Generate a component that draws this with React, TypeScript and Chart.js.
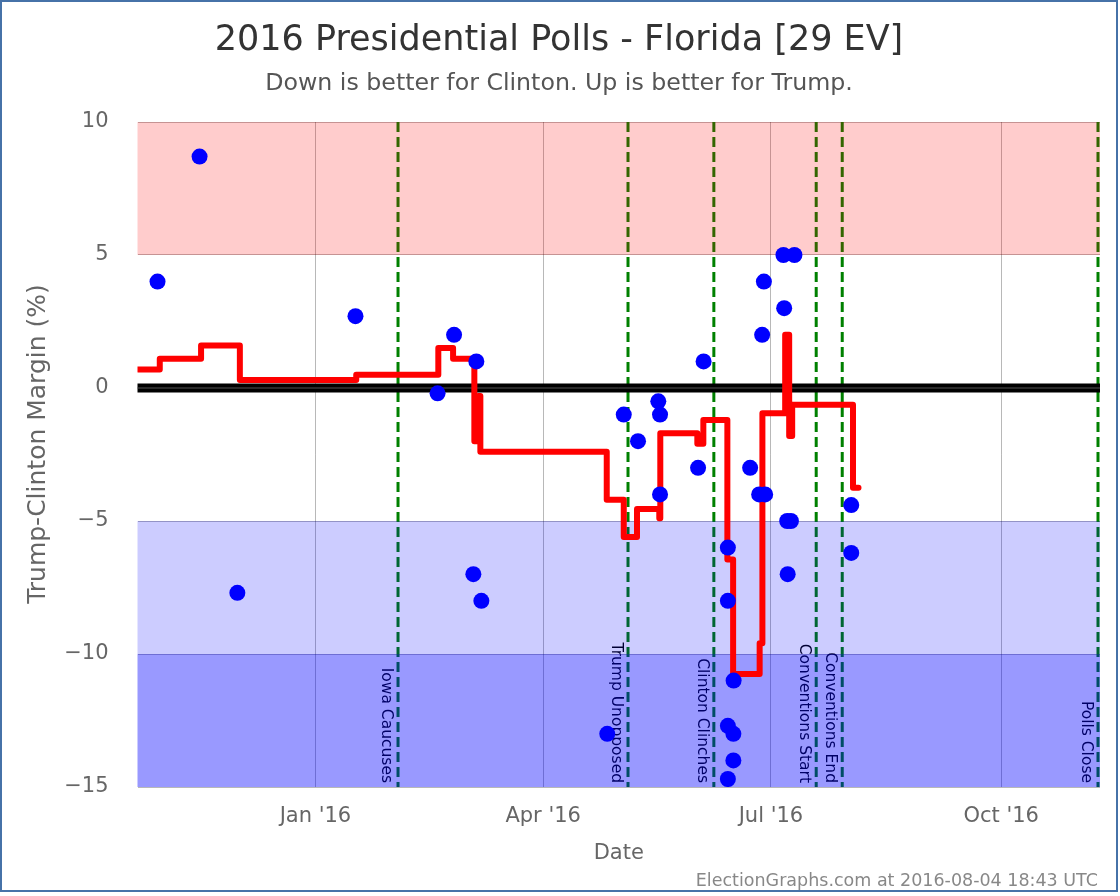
import { useEffect, useRef } from "react";
import { Chart, registerables } from "chart.js";

Chart.register(...registerables);

// x values are days since 2016-01-01
const pollDays = [-63.1, -46.3, -31.2, 16, 48.8, 55.4, 64.3, 63.1, 66.3, 116.6, 123.2, 128.9, 137, 137.7, 137.7, 152.9, 155.1, 164.8, 164.8, 167.1, 164.8, 167, 167, 164.8, 173.7, 178.5, 179.2, 177.3, 179.7, 187.3, 187, 191.4, 188.5, 190, 188.7, 214.1, 214.1];
const pollMargins = [4, 8.7, -7.7, 2.7, -0.2, 2, 1, -7, -8, -13, -1, -2, -0.5, -1, -4, -3, 1, -6, -8, -11, -12.7, -13, -14, -14.7, -3, 2, 4, -4, -4, 3, 5, 5, -5, -5, -7, -4.4, -6.2];

const avgDays = [-71.1, -62.2, -45.7, -30.2, 16.3, 49.1, 55, 63.5, 65.1, 65.9, 116.4, 123.2, 128.5, 137.4, 137.8, 152.6, 155, 164.6, 166.9, 177.5, 178.6, 187.7, 189.3, 190.5, 214.8, 217];
const avgMargins = [0.7, 1.1, 1.6, 0.3, 0.5, 1.5, 1.1, -2.0, -0.3, -2.4, -4.2, -5.6, -4.55, -4.9, -1.7, -2.1, -1.2, -6.45, -10.75, -9.6, -0.95, 2.0, -1.8, -0.63, -3.75, -3.75];

const eventNames = ["Iowa Caucuses", "Trump Unopposed", "Clinton Clinches", "Conventions Start", "Conventions End", "Polls Close"];
const eventDays = [33.0, 124.9, 159.2, 200.1, 210.5, 312.7];

const xTickDays = [0, 91, 182, 274];
const xTickLabels = ["Jan '16", "Apr '16", "Jul '16", "Oct '16"];

const bandLows = [5, -10, -15];
const bandHighs = [10, -5, -10];
const bandColors = ["rgba(255,0,0,0.2)", "rgba(0,0,255,0.2)", "rgba(0,0,255,0.4)"];

const FONT = "'DejaVu Sans', sans-serif";

export default function App() {
  const ref = useRef<HTMLCanvasElement>(null);

  useEffect(() => {
    document.body.style.margin = "0";
    const canvas = ref.current!;

    const decor = {
      id: "decor",
      beforeDraw(chart: any) {
        const ctx = chart.ctx;
        ctx.save();
        ctx.fillStyle = "#ffffff";
        ctx.fillRect(0, 0, chart.width, chart.height);
        ctx.strokeStyle = "#4672a8";
        ctx.lineWidth = 2;
        ctx.strokeRect(1, 1, 1116, 890);
        ctx.textAlign = "center";
        ctx.textBaseline = "alphabetic";
        ctx.fillStyle = "#333333";
        ctx.font = `35px ${FONT}`;
        ctx.fillText("2016 Presidential Polls - Florida [29 EV]", 559, 50);
        ctx.fillStyle = "#555555";
        ctx.font = `23.7px ${FONT}`;
        ctx.fillText("Down is better for Clinton. Up is better for Trump.", 559, 90);
        ctx.textAlign = "right";
        ctx.fillStyle = "#888888";
        ctx.font = `17.5px ${FONT}`;
        ctx.fillText("ElectionGraphs.com at 2016-08-04 18:43 UTC", 1098, 886);
        // y axis title
        ctx.save();
        ctx.translate(38, 444);
        ctx.rotate(-Math.PI / 2);
        ctx.textAlign = "center";
        ctx.textBaseline = "middle";
        ctx.fillStyle = "#666666";
        ctx.font = `25px ${FONT}`;
        ctx.fillText("Trump-Clinton Margin (%)", 0, 0);
        ctx.restore();
        ctx.restore();
      },
      beforeDatasetsDraw(chart: any) {
        const ctx = chart.ctx;
        const { top, bottom, left, right } = chart.chartArea;
        const xs = chart.scales.x;
        const ys = chart.scales.y;
        ctx.save();
        // event lines and labels
        eventDays.forEach((d, i) => {
          const px = xs.getPixelForValue(d);
          ctx.strokeStyle = "#008000";
          ctx.lineWidth = 3;
          ctx.setLineDash([10, 5]);
          ctx.beginPath();
          ctx.moveTo(px, top);
          ctx.lineTo(px, bottom);
          ctx.stroke();
          ctx.setLineDash([]);
          ctx.save();
          ctx.translate(px - 4, bottom - 4);
          ctx.rotate(Math.PI / 2);
          ctx.font = `15.5px ${FONT}`;
          ctx.fillStyle = "#000000";
          ctx.textAlign = "right";
          ctx.textBaseline = "top";
          ctx.fillText(eventNames[i], 0, 0);
          ctx.restore();
        });
        // bands
        bandLows.forEach((lo, i) => {
          const y1 = ys.getPixelForValue(bandHighs[i]);
          const y2 = ys.getPixelForValue(lo);
          ctx.fillStyle = bandColors[i];
          ctx.fillRect(left, y1, right - left, y2 - y1);
        });
        // zero line
        const y0 = ys.getPixelForValue(0);
        ctx.strokeStyle = "#000000";
        ctx.lineWidth = 9;
        ctx.beginPath();
        ctx.moveTo(left, y0);
        ctx.lineTo(right, y0);
        ctx.stroke();
        ctx.strokeStyle = "#555555";
        ctx.lineWidth = 1;
        ctx.beginPath();
        ctx.moveTo(left, y0);
        ctx.lineTo(right, y0);
        ctx.stroke();
        ctx.restore();
      },
    };

    const chart = new Chart(canvas, {
      type: "line",
      data: {
        datasets: [
          {
            type: "scatter",
            data: pollDays.map((d, i) => ({ x: d, y: pollMargins[i] })),
            backgroundColor: "#0000ff",
            borderWidth: 0,
            pointRadius: 8,
            pointHoverRadius: 8,
            order: 0,
          } as any,
          {
            type: "line",
            data: avgDays.map((d, i) => ({ x: d, y: avgMargins[i] })),
            borderColor: "#ff0000",
            borderWidth: 6,
            stepped: true,
            pointRadius: 0,
            fill: false,
            borderCapStyle: "round",
            borderJoinStyle: "round",
            order: 1,
          } as any,
        ],
      },
      options: {
        responsive: false,
        animation: false,
        layout: { padding: { top: 122, right: 20, left: 0, bottom: 0 } },
        plugins: {
          legend: { display: false },
          tooltip: { enabled: false },
          title: { display: false },
        },
        scales: {
          x: {
            type: "linear",
            min: -71.1,
            max: 313.5,
            afterBuildTicks: (s: any) => {
              s.ticks = xTickDays.map((v) => ({ value: v }));
            },
            afterFit: (s: any) => {
              s.height = 109;
            },
            ticks: {
              autoSkip: false,
              maxRotation: 0,
              padding: 17,
              color: "#666666",
              font: { family: FONT, size: 21 },
              callback: (_v: any, i: number) => xTickLabels[i],
            },
            grid: { color: "rgba(0,0,0,0.28)", drawTicks: false, lineWidth: 1 },
            border: { display: false },
            title: {
              display: true,
              text: "Date",
              color: "#666666",
              font: { family: FONT, size: 21 },
              padding: { top: 0, bottom: 30 },
            },
          },
          y: {
            min: -15,
            max: 10,
            afterFit: (s: any) => {
              s.width = 137.5;
            },
            ticks: {
              stepSize: 5,
              padding: 29,
              color: "#666666",
              font: { family: FONT, size: 21 },
              callback: (v: any) => (v < 0 ? "\u2212" + Math.abs(v) : String(v)),
            },
            grid: { color: "rgba(0,0,0,0.28)", drawTicks: false, lineWidth: 1 },
            border: { display: false },
            title: { display: false },
          },
        },
      },
      plugins: [decor],
    } as any);

    return () => chart.destroy();
  }, []);

  return (
    <div style={{ width: 1120, height: 896 }}>
      <canvas ref={ref} width={1120} height={896} />
    </div>
  );
}
